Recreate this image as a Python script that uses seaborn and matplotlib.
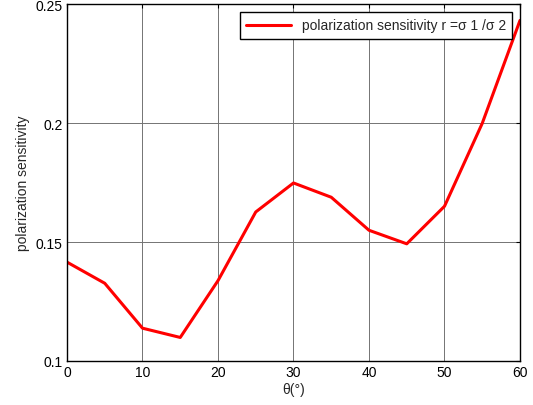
import numpy as np
import pandas as pd
import seaborn as sns
import matplotlib
matplotlib.use('Agg')
import matplotlib.pyplot as plt

# dados
theta = [0, 5, 10, 15, 20, 25, 30, 35, 40, 45, 50, 55, 60]
sensibilidade = [0.1416, 0.1327, 0.1138, 0.1099, 0.1338, 0.1627, 0.1749,
                 0.1689, 0.1550, 0.1493, 0.1651, 0.2000, 0.2433]
x_ticks = [0, 10, 20, 30, 40, 50, 60]
y_ticks = [0.1, 0.15, 0.2, 0.25]
y_labels = ['0.1', '0.15', '0.2', '0.25']

df = pd.DataFrame({'theta': theta, 'sens': sensibilidade})

sns.set_style('white')
plt.rcParams['font.family'] = ['Liberation Sans', 'DejaVu Sans']

fig = plt.figure(figsize=(5.33, 4.06), dpi=100)
ax = fig.add_axes([0.1257, 0.1084, 0.8499, 0.8781])

sns.lineplot(data=df, x='theta', y='sens', color='red', linewidth=2.2,
             label='polarization sensitivity r =σ 1 /σ 2', ax=ax)

ax.set_xlim(0, 60)
ax.set_ylim(0.1, 0.25)
ax.set_xticks(x_ticks)
ax.set_yticks(y_ticks)
ax.set_yticklabels(y_labels)
ax.grid(True, color='0.45', linewidth=0.7)
ax.tick_params(direction='in', top=True, right=True, length=3, labelsize=10,
               colors='black', pad=3)
for s in ax.spines.values():
    s.set_color('black')
    s.set_linewidth(1.0)

ax.set_xlabel('θ(°)', fontsize=10, labelpad=2)
ax.set_ylabel('polarization sensitivity', fontsize=10, labelpad=4)

leg = ax.legend(loc='upper right', fontsize=10, fancybox=False, framealpha=1,
                edgecolor='black', borderaxespad=0.55, handlelength=3.2,
                borderpad=0.45)
leg.get_frame().set_linewidth(1.0)

plt.savefig('out.png', dpi=100)
